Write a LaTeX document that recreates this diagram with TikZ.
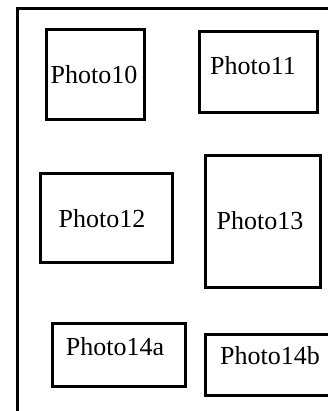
\documentclass[tikz,border=0pt]{standalone}
\usepackage{fontspec}
\setmainfont{Liberation Serif}
\begin{document}
\begin{tikzpicture}[x=1pt,y=-1pt,
  photobox/.style={draw=black, line width=3pt, inner sep=0pt, rectangle},
  lbl/.style={inner sep=0pt, font=\fontsize{26}{30}\selectfont},
  frame/.style={draw=black, line width=3pt}]
\useasboundingbox (0,0) rectangle (328,411);
% outer frame
\coordinate (fbl) at (17,420);
\coordinate (ftl) at (17,9);
\coordinate (ftr) at (340,9);
\draw[frame] (fbl) -- (ftl) -- (ftr);
% boxes
\node[photobox, minimum width=98pt, minimum height=90pt] (p10) at (95,75) {};
\node[photobox, minimum width=118pt, minimum height=81pt] (p11) at (258,72.5) {};
\node[photobox, minimum width=132pt, minimum height=88pt] (p12) at (106,218) {};
\node[photobox, minimum width=115pt, minimum height=131pt] (p13) at (262.5,221.5) {};
\node[photobox, minimum width=133pt, minimum height=63pt] (p14a) at (118.5,354.5) {};
\node[photobox, minimum width=140pt, minimum height=61pt] (p14b) at (275,365) {};
% labels
\node[lbl] (t10) at (94,75) {Photo10};
\node[lbl] (t11) at (253,66) {Photo11};
\node[lbl] (t12) at (102,219) {Photo12};
\node[lbl] (t13) at (260,221) {Photo13};
\node[lbl] (t14a) at (115,347) {Photo14a};
\node[lbl] (t14b) at (270,356) {Photo14b};
\end{tikzpicture}
\end{document}
